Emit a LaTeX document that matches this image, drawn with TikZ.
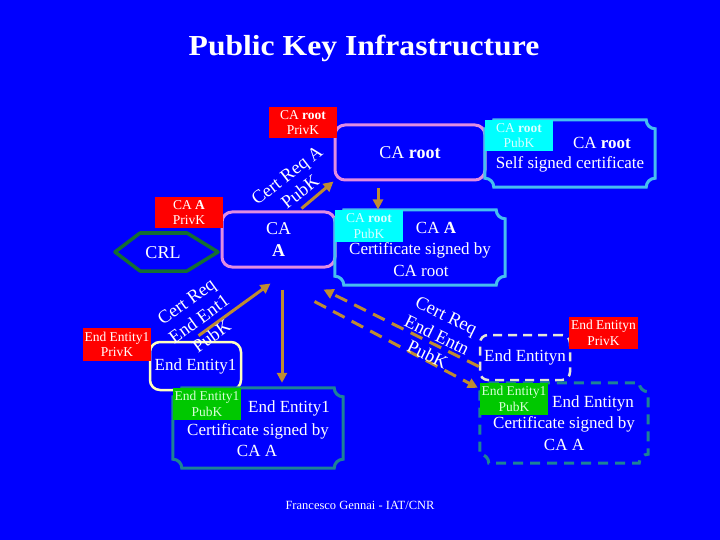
\documentclass[tikz,border=0pt]{standalone}
\usepackage{fontspec}
\setmainfont{Liberation Serif}
\usetikzlibrary{arrows.meta,calc}
\definecolor{bg}{RGB}{0,0,255}
\definecolor{pinkline}{RGB}{225,140,225}
\definecolor{keyred}{RGB}{255,0,0}
\definecolor{keycyan}{RGB}{0,255,255}
\definecolor{palecyan}{RGB}{215,255,255}
\definecolor{keygreen}{RGB}{0,200,0}
\definecolor{palegreen}{RGB}{215,255,215}
\definecolor{cyanline}{RGB}{70,190,240}
\definecolor{tealline}{RGB}{30,130,150}
\definecolor{crlgreen}{RGB}{20,110,50}
\definecolor{eeline}{RGB}{255,255,190}
\definecolor{eenline}{RGB}{230,230,215}
\definecolor{arrowc}{RGB}{190,140,50}
\newcommand\plaquedraw[2]{%
 \draw[#1] ([xshift=9pt]#2.north west) -- ([xshift=-9pt]#2.north east)
  .. controls ([xshift=-9pt,yshift=-5pt]#2.north east) and ([xshift=-5pt,yshift=-9pt]#2.north east) .. ([yshift=-9pt]#2.north east)
  -- ([yshift=9pt]#2.south east)
  .. controls ([xshift=-5pt,yshift=9pt]#2.south east) and ([xshift=-9pt,yshift=5pt]#2.south east) .. ([xshift=-9pt]#2.south east)
  -- ([xshift=9pt]#2.south west)
  .. controls ([xshift=9pt,yshift=5pt]#2.south west) and ([xshift=5pt,yshift=9pt]#2.south west) .. ([yshift=9pt]#2.south west)
  -- ([yshift=-9pt]#2.north west)
  .. controls ([xshift=5pt,yshift=-9pt]#2.north west) and ([xshift=9pt,yshift=-5pt]#2.north west) .. cycle;}
\tikzset{
 txt/.style={text=white, font=\fontsize{17}{20}\selectfont, inner sep=0pt},
 lbl/.style={rectangle, inner sep=0pt, font=\fontsize{13.5}{15.5}\selectfont, align=center},
 redlbl/.style={lbl, fill=keyred, text=white},
 cyanlbl/.style={lbl, fill=keycyan, text=palecyan},
 greenlbl/.style={lbl, fill=keygreen, text=palegreen},
 cabox/.style={rectangle, rounded corners=10pt, line width=3pt, draw=pinkline, text=white, align=center, font=\fontsize{18}{22}\selectfont},
 ghost/.style={rectangle, inner sep=0pt},
 plq/.style={line width=3pt},
 arr/.style={draw=arrowc, line width=3pt, -{Triangle[length=10pt,width=10pt]}},
 darr/.style={draw=arrowc, line width=3pt, dash pattern=on 13pt off 8pt, -{Triangle[length=10pt,width=10pt]}},
 req/.style={text=white, font=\fontsize{18.5}{21.5}\selectfont, align=center, inner sep=0pt}
}
\begin{document}
\begin{tikzpicture}[x=1pt,y=-1pt]
\fill[bg] (0,0) rectangle (720,540);
\useasboundingbox (0,0) rectangle (720,540);

% title and footer
\node[text=white, font=\bfseries\fontsize{29}{34}\selectfont, inner sep=0pt] (title) at (364,48) {\scalebox{1.09}[1]{Public Key Infrastructure}};
\node[text=white, font=\fontsize{12.5}{15}\selectfont, inner sep=0pt] (footer) at (360,505) {Francesco Gennai - IAT/CNR};

% CA boxes
\node[cabox, minimum width=150pt, minimum height=55pt] (caroot) at (410,152.5) {CA \textbf{root}};
\node[cabox, minimum width=113pt, minimum height=55pt] (caA) at (278.5,239.5) {CA\\\textbf{A}};

% CRL hexagon
\node[txt, font=\fontsize{18}{22}\selectfont] (crl) at (163,253) {CRL};
\draw[crlgreen, line width=3.5pt, line join=round] (115,252) -- (140,233) -- (187,233) -- (218,252) -- (187,271) -- (140,271) -- cycle;

% end entity boxes
\node[rectangle, rounded corners=10pt, line width=2.5pt, draw=eeline, txt, minimum width=91pt, minimum height=48pt] (ee1) at (195.5,366) {End Entity1};
\node[rectangle, rounded corners=8pt, line width=2.5pt, draw=eenline, dash pattern=on 9pt off 6pt, txt, minimum width=90pt, minimum height=45pt] (een) at (525,357.5) {End Entityn};

% certificates (plaques)
\node[ghost, minimum width=170pt, minimum height=67pt] (selfcert) at (570,153.5) {};
\plaquedraw{plq, draw=cyanline}{selfcert}
\node[ghost, minimum width=170pt, minimum height=75pt] (cacert) at (420,247.5) {};
\plaquedraw{plq, draw=cyanline}{cacert}
\node[ghost, minimum width=170pt, minimum height=80pt] (ee1cert) at (258,428) {};
\plaquedraw{plq, draw=tealline}{ee1cert}
\node[ghost, minimum width=168pt, minimum height=80pt] (eencert) at (564,423) {};
\plaquedraw{plq, draw=tealline, dash pattern=on 10pt off 7pt}{eencert}

% certificate texts
\node[txt] (selfa) at (602,143) {CA \textbf{root}};
\node[txt] (selfb) at (570,164) {Self signed certificate};
\node[txt] (caca) at (436,228) {CA \textbf{A}};
\node[txt] (cacb) at (420,250) {Certificate signed by};
\node[txt] (cacc) at (421,271) {CA root};
\node[txt] (ee1a) at (289,408) {End Entity1};
\node[txt] (ee1b) at (258,431) {Certificate signed by};
\node[txt] (ee1c) at (257,451) {CA A};
\node[txt] (eena) at (593,403) {End Entityn};
\node[txt] (eenb) at (564,424) {Certificate signed by};
\node[txt] (eenc) at (564,445) {CA A};

% key labels
\node[redlbl, minimum width=68pt, minimum height=31pt] (carootpriv) at (303,122.5) {CA \textbf{root}\\PrivK};
\node[redlbl, minimum width=68pt, minimum height=31pt] (caApriv) at (189,212.5) {CA \textbf{A}\\PrivK};
\node[redlbl, minimum width=68pt, minimum height=33pt] (ee1priv) at (117,344.5) {End Entity1\\PrivK};
\node[redlbl, minimum width=69pt, minimum height=32pt] (eenpriv) at (603.5,333) {End Entityn\\PrivK};
\node[cyanlbl, minimum width=68pt, minimum height=31pt] (selfpub) at (519,135.5) {CA \textbf{root}\\PubK};
\node[cyanlbl, minimum width=68pt, minimum height=32pt] (caApub) at (369,226) {CA \textbf{root}\\PubK};
\node[greenlbl, minimum width=68pt, minimum height=32pt] (ee1pub) at (207,404) {End Entity1\\PubK};
\node[greenlbl, minimum width=68pt, minimum height=32pt] (eenpub) at (514,399) {End Entity1\\PubK};

% arrows
\draw[arr] ([xshift=-35pt,yshift=2pt]caA.north east) -- (caroot.south west);
\draw[arr] ($(caroot.south)+(-32,7)$) -- ($(caroot.south)+(-32,28)$);
\draw[arr] ([xshift=3pt,yshift=5pt]ee1.north) -- ([xshift=-8pt,yshift=-15pt]caA.south);
\draw[arr] ([xshift=3.5pt,yshift=-21pt]caA.south) -- ($(caA.south |- ee1cert.north)+(3.5,-5)$);
\draw[darr] ([yshift=-9pt]een.west) -- ([xshift=-13pt,yshift=-21pt]caA.south east);
\draw[darr] ([xshift=-22pt,yshift=-33pt]caA.south east) -- ([xshift=-2pt,yshift=-5pt]eencert.north west);

% request labels
\node[req, rotate=38] (reqA) at (293.5,183.5) {Cert Req A\\PubK};
\node[req, rotate=36] (req1) at (199,319) {Cert Req\\End Ent1\\PubK};
\node[req, rotate=-26] (reqn) at (437,335) {Cert Req\\End Entn\\PubK};
\end{tikzpicture}
\end{document}
